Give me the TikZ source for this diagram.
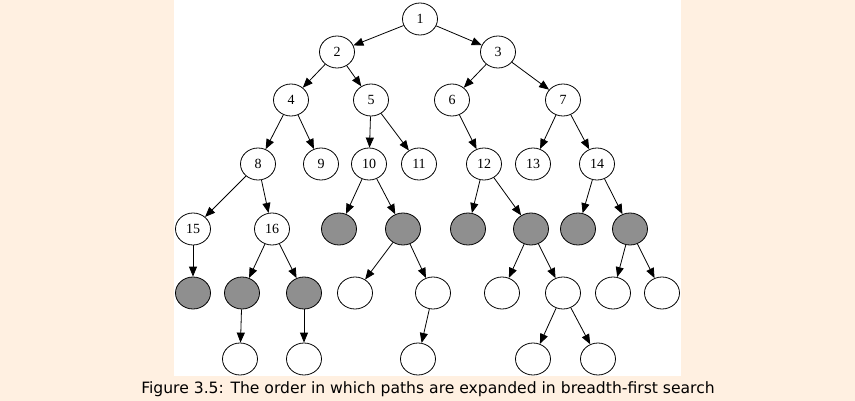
\documentclass[tikz,border=0pt]{standalone}
\usepackage{fontspec}
\setmainfont{Liberation Serif}
\newfontfamily\capfont{DejaVu Sans}
\usetikzlibrary{arrows.meta,shapes.geometric}
\definecolor{peach}{RGB}{255,240,225}
\definecolor{closedgray}{RGB}{143,143,143}
\begin{document}
\begin{tikzpicture}[x=1pt,y=-1pt]
				\tikzstyle{vertex}=[ellipse,draw=black,line width=0.8pt,fill=white,minimum width=35pt,minimum height=32pt,inner sep=0pt,font=\fontsize{14}{16}\selectfont]
				\tikzstyle{closed}=[vertex,fill=closedgray]
				\fill[peach] (0,0) rectangle (855,401);
				\fill[white] (174,0) rectangle (681,376);
				% numbered paths
				\node[vertex](v1) at (420,19){1};
				\node[vertex](v2) at (337,52){2};
				\node[vertex](v3) at (498,52){3};
				\node[vertex](v4) at (291,100){4};
				\node[vertex](v5) at (371,100){5};
				\node[vertex](v6) at (452,100){6};
				\node[vertex](v7) at (563,100){7};
				\node[vertex](v8) at (258,164){8};
				\node[vertex](v9) at (321,164){9};
				\node[vertex](v10) at (369,164){10};
				\node[vertex](v11) at (419,164){11};
				\node[vertex](v12) at (484,164){12};
				\node[vertex](v13) at (533,164){13};
				\node[vertex](v14) at (597,164){14};
				\node[vertex](v15) at (193,229){15};
				\node[vertex](v16) at (272,229){16};
				% grey nodes
				\node[closed](g1) at (339,229){};
				\node[closed](g2) at (403,229){};
				\node[closed](g3) at (468,229){};
				\node[closed](g4) at (531,229){};
				\node[closed](g5) at (578,229){};
				\node[closed](g6) at (630,229){};
				\node[closed](g7) at (193,293){};
				\node[closed](g8) at (242,293){};
				\node[closed](g9) at (304,293){};
				% empty nodes
				\node[vertex](e1) at (355,293){};
				\node[vertex](e2) at (433,293){};
				\node[vertex](e3) at (502,293){};
				\node[vertex](e4) at (563,293){};
				\node[vertex](e5) at (613,293){};
				\node[vertex](e6) at (662,293){};
				\node[vertex](e7) at (240,359){};
				\node[vertex](e8) at (304,359){};
				\node[vertex](e9) at (418,359){};
				\node[vertex](e10) at (533,359){};
				\node[vertex](e11) at (598,359){};
				\path[-{Triangle[length=10pt,width=8pt]},line width=0.8pt]
					(v1) edge (v2)
					(v1) edge (v3)
					(v2) edge (v4)
					(v2) edge (v5)
					(v3) edge (v6)
					(v3) edge (v7)
					(v4) edge (v8)
					(v4) edge (v9)
					(v5) edge (v10)
					(v5) edge (v11)
					(v6) edge (v12)
					(v7) edge (v13)
					(v7) edge (v14)
					(v8) edge (v15)
					(v8) edge (v16)
					(v10) edge (g1)
					(v10) edge (g2)
					(v12) edge (g3)
					(v12) edge (g4)
					(v14) edge (g5)
					(v14) edge (g6)
					(v15) edge (g7)
					(v16) edge (g8)
					(v16) edge (g9)
					(g2) edge (e1)
					(g2) edge (e2)
					(g4) edge (e3)
					(g4) edge (e4)
					(g6) edge (e5)
					(g6) edge (e6)
					(g8) edge (e7)
					(g9) edge (e8)
					(e2) edge (e9)
					(e4) edge (e10)
					(e4) edge (e11);
				\node[font=\capfont\fontsize{15.6}{18}\selectfont,anchor=base,inner sep=0pt](cap) at (428,393){Figure 3.5: The order in which paths are expanded in breadth-first search};
			\end{tikzpicture}
\end{document}
